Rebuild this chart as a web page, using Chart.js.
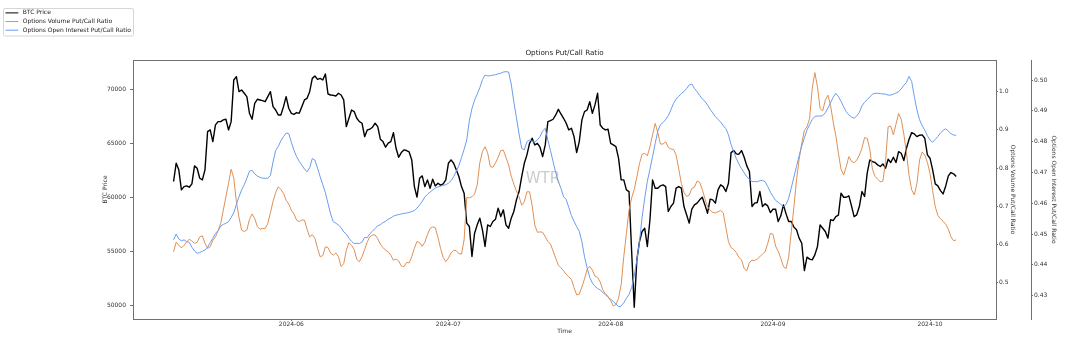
<!DOCTYPE html>
<html><head><meta charset="utf-8">
<script src="https://cdn.jsdelivr.net/npm/chart.js@4.4.1/dist/chart.umd.min.js"></script>
<style>html,body{margin:0;padding:0;background:#fff}#wrap{width:1072px;height:355px;position:relative}canvas{display:block}</style>
</head><body><div id="wrap"><canvas id="c" width="1072" height="355"></canvas></div>
<script>
// ---- data (12-hour samples starting 2024-05-09 12:00 UTC) ----
const seriesStart = '2024-05-09T12:00:00Z';
const stepHours = 12;

const btcPrice = [
61450,63150,62530,60670,60980,61040,60920,61230,62900,62680,
61750,61600,62530,66080,66230,65150,66700,67000,67000,67160,
67220,66230,67000,70860,71170,69780,69935,69630,69320,67770,
67220,68700,69070,69010,68950,68850,69320,69780,68390,68080,
67620,67620,68390,69320,68240,67770,67680,67840,67770,68390,
69010,69160,69780,71010,71230,70920,71010,70860,71420,69560,
69470,69440,69380,69630,69470,69010,66540,67310,68080,67930,
67310,67000,66850,65610,66230,66290,66480,66850,66540,65370,
65150,64630,65000,65150,65980,64530,63700,64130,64380,64320,
64190,63450,60980,60000,61750,61970,60980,61600,60830,61660,
61040,61290,61110,61230,61600,63140,63450,63140,62530,61910,
60980,60370,57590,57280,54500,56660,57430,58050,56970,55430,
57430,57280,57740,57960,58980,58200,58820,57430,57120,58050,
58670,59750,60520,61910,63140,63920,64990,65460,64840,64990,
64630,63760,64840,67000,67090,67220,67620,68140,67710,67310,
66850,66230,66390,65610,64130,65150,67160,67930,68080,68850,
67770,68550,69630,66690,66390,66230,66290,64990,64840,64690,
63610,61600,61600,60670,60520,55000,49800,54190,55890,56820,
57120,55430,57900,61600,60830,60830,61050,61140,60980,58670,
59130,59440,60830,60980,60830,59130,58360,57590,58880,59280,
59440,59750,59990,59280,58510,59810,59750,59440,60670,61140,
60980,60520,61290,64130,64320,64010,63980,64320,63700,62900,
62370,59130,59440,59500,60520,59130,59380,59190,58570,58880,
58880,57740,58270,59280,58450,57740,57740,57220,56970,56200,
55730,53200,54440,54250,54190,54650,55430,57430,57120,56810,
56200,57900,57830,58200,58330,60370,59990,59990,60120,59190,
58200,58360,59130,60520,60060,62220,63450,63300,63210,62990,
62840,63080,62680,63510,63210,63700,63210,64220,64070,63390,
64530,65370,65980,65860,65610,65740,65770,65460,63920,63610,
62530,61230,61040,60610,60300,61040,61970,62280,62160,61910
];

const volumePutCall = [
0.581,0.606,0.598,0.591,0.598,0.607,0.614,0.609,0.603,0.606,
0.620,0.623,0.603,0.590,0.594,0.611,0.620,0.636,0.655,0.690,
0.725,0.760,0.797,0.774,0.712,0.671,0.638,0.634,0.638,0.666,
0.680,0.668,0.647,0.640,0.642,0.642,0.655,0.683,0.713,0.736,
0.751,0.744,0.734,0.716,0.706,0.690,0.680,0.664,0.660,0.664,
0.664,0.640,0.620,0.626,0.616,0.590,0.568,0.571,0.594,0.592,
0.578,0.572,0.578,0.568,0.542,0.550,0.585,0.605,0.598,0.587,
0.561,0.555,0.568,0.587,0.607,0.620,0.625,0.625,0.615,0.601,
0.592,0.585,0.581,0.572,0.559,0.562,0.557,0.544,0.542,0.553,
0.552,0.568,0.590,0.608,0.605,0.595,0.606,0.626,0.642,0.646,
0.644,0.619,0.590,0.566,0.555,0.564,0.578,0.585,0.584,0.576,
0.575,0.612,0.723,0.722,0.725,0.732,0.756,0.814,0.843,0.856,
0.840,0.804,0.802,0.814,0.828,0.846,0.847,0.828,0.808,0.779,
0.758,0.740,0.725,0.703,0.712,0.738,0.738,0.702,0.651,0.632,
0.633,0.632,0.620,0.608,0.601,0.583,0.564,0.546,0.539,0.531,
0.522,0.515,0.509,0.487,0.468,0.470,0.489,0.510,0.535,0.543,
0.533,0.517,0.514,0.502,0.481,0.471,0.464,0.453,0.439,0.443,
0.459,0.495,0.568,0.629,0.690,0.722,0.744,0.777,0.812,0.836,
0.839,0.832,0.856,0.887,0.917,0.893,0.863,0.863,0.869,0.854,
0.850,0.849,0.834,0.798,0.760,0.736,0.726,0.729,0.747,0.750,
0.766,0.763,0.744,0.720,0.699,0.690,0.684,0.683,0.686,0.689,
0.683,0.645,0.607,0.592,0.587,0.579,0.566,0.560,0.537,0.531,
0.553,0.559,0.558,0.562,0.568,0.575,0.581,0.603,0.629,0.627,
0.596,0.582,0.564,0.542,0.537,0.568,0.633,0.699,0.769,0.823,
0.865,0.899,0.908,0.930,1.009,1.050,1.013,0.956,0.950,0.978,
0.991,0.964,0.921,0.886,0.839,0.797,0.782,0.804,0.830,0.818,
0.814,0.821,0.834,0.852,0.880,0.878,0.849,0.797,0.778,0.771,
0.764,0.766,0.817,0.908,0.910,0.887,0.915,0.943,0.928,0.889,
0.839,0.781,0.743,0.730,0.760,0.821,0.842,0.834,0.815,0.786,
0.741,0.699,0.676,0.667,0.661,0.653,0.640,0.620,0.610,0.612
];

const oiPutCall = [
0.4481,0.4500,0.4484,0.4478,0.4481,0.4475,0.4473,0.4457,0.4445,0.4437,
0.4440,0.4444,0.4448,0.4457,0.4472,0.4486,0.4502,0.4511,0.4526,0.4531,
0.4535,0.4540,0.4554,0.4569,0.4596,0.4621,0.4643,0.4660,0.4681,0.4704,
0.4707,0.4695,0.4688,0.4684,0.4681,0.4681,0.4681,0.4690,0.4734,0.4771,
0.4784,0.4803,0.4816,0.4828,0.4826,0.4798,0.4772,0.4751,0.4736,0.4724,
0.4711,0.4702,0.4715,0.4745,0.4740,0.4714,0.4686,0.4660,0.4634,0.4599,
0.4565,0.4540,0.4535,0.4529,0.4521,0.4507,0.4500,0.4486,0.4476,0.4469,
0.4470,0.4469,0.4474,0.4489,0.4488,0.4501,0.4509,0.4518,0.4527,0.4530,
0.4537,0.4541,0.4548,0.4552,0.4558,0.4561,0.4563,0.4565,0.4567,0.4568,
0.4570,0.4573,0.4576,0.4584,0.4594,0.4606,0.4620,0.4629,0.4636,0.4643,
0.4649,0.4653,0.4655,0.4658,0.4660,0.4665,0.4673,0.4686,0.4704,0.4722,
0.4748,0.4775,0.4805,0.4868,0.4907,0.4935,0.4954,0.4975,0.5001,0.5016,
0.5013,0.5014,0.5016,0.5017,0.5020,0.5022,0.5026,0.5027,0.5026,0.4987,
0.4929,0.4877,0.4825,0.4778,0.4773,0.4800,0.4805,0.4800,0.4799,0.4806,
0.4816,0.4835,0.4843,0.4805,0.4771,0.4735,0.4699,0.4671,0.4648,0.4621,
0.4612,0.4586,0.4560,0.4541,0.4524,0.4509,0.4475,0.4426,0.4390,0.4359,
0.4341,0.4330,0.4323,0.4318,0.4310,0.4303,0.4294,0.4288,0.4281,0.4273,
0.4264,0.4266,0.4277,0.4291,0.4304,0.4326,0.4364,0.4416,0.4475,0.4554,
0.4616,0.4671,0.4710,0.4751,0.4794,0.4834,0.4855,0.4862,0.4872,0.4884,
0.4903,0.4924,0.4938,0.4947,0.4956,0.4963,0.4972,0.4984,0.4987,0.4973,
0.4962,0.4950,0.4939,0.4931,0.4919,0.4905,0.4893,0.4881,0.4872,0.4864,
0.4852,0.4842,0.4822,0.4790,0.4767,0.4745,0.4727,0.4712,0.4699,0.4686,
0.4678,0.4670,0.4670,0.4670,0.4673,0.4674,0.4670,0.4654,0.4636,0.4622,
0.4609,0.4603,0.4596,0.4589,0.4596,0.4616,0.4650,0.4685,0.4720,0.4754,
0.4786,0.4812,0.4838,0.4855,0.4872,0.4882,0.4883,0.4883,0.4884,0.4894,
0.4909,0.4926,0.4944,0.4957,0.4946,0.4931,0.4913,0.4897,0.4887,0.4880,
0.4876,0.4883,0.4895,0.4916,0.4928,0.4936,0.4945,0.4954,0.4957,0.4957,
0.4956,0.4955,0.4954,0.4951,0.4951,0.4954,0.4958,0.4962,0.4971,0.4983,
0.4992,0.5012,0.4995,0.4946,0.4903,0.4871,0.4852,0.4837,0.4819,0.4805,
0.4798,0.4807,0.4817,0.4828,0.4836,0.4842,0.4834,0.4826,0.4821,0.4821
];

const seriesNames = ['BTC Price', 'Options Volume Put/Call Ratio', 'Options Open Interest Put/Call Ratio'];
const xTickDates = ['2024-06-01T00:00:00Z','2024-07-01T00:00:00Z','2024-08-01T00:00:00Z','2024-09-01T00:00:00Z','2024-10-01T00:00:00Z'];
const xTickLabels = ['2024-06','2024-07','2024-08','2024-09','2024-10'];
const btcTicks = [50000,55000,60000,65000,70000];
const volTicks = [0.5,0.6,0.7,0.8,0.9,1.0];
const oiTicks = [0.43,0.44,0.45,0.46,0.47,0.48,0.49,0.50];
const xRange = ['2024-05-01T18:00:00Z','2024-10-13T14:30:00Z'];
const btcRange = [48704, 72713];
const volRange = [0.405, 1.083];
const oiRange = [0.4224, 0.5065];

// ---- build ----
const t0 = Date.parse(seriesStart);
const stepMs = stepHours * 3600 * 1000;
const toPoints = arr => arr.map((v, i) => ({x: t0 + i * stepMs, y: v}));

Chart.defaults.font.family = "'DejaVu Sans', sans-serif";
Chart.defaults.color = '#333';

const FRAME = '#707070';
const TICK_FONT = {size: 6};
const LABEL_FONT = {size: 6};

const framePlugin = {
  id: 'frameTop',
  afterDatasetsDraw(chart) {
    const {ctx, chartArea: a} = chart;
    ctx.save();
    ctx.strokeStyle = FRAME; ctx.lineWidth = 1;
    ctx.beginPath();
    ctx.moveTo(a.left, Math.round(a.top) + 0.5);
    ctx.lineTo(a.right, Math.round(a.top) + 0.5);
    ctx.stroke();
    ctx.restore();
  }
};

const watermarkPlugin = {
  id: 'watermark',
  afterDatasetsDraw(chart) {
    const {ctx} = chart;
    ctx.save();
    ctx.font = "15px 'DejaVu Sans', sans-serif";
    ctx.fillStyle = 'rgba(140,140,140,0.45)';
    ctx.textAlign = 'center';
    ctx.textBaseline = 'middle';
    ctx.fillText('WTR', 543, 179);
    ctx.restore();
  }
};

const legendPlugin = {
  id: 'boxLegend',
  afterDraw(chart) {
    const {ctx} = chart;
    const ds = chart.data.datasets;
    ctx.save();
    const bx = 3.5, by = 8.5, bw = 130, bh = 27.5, r = 1.5;
    ctx.beginPath();
    ctx.moveTo(bx + r, by);
    ctx.arcTo(bx + bw, by, bx + bw, by + bh, r);
    ctx.arcTo(bx + bw, by + bh, bx, by + bh, r);
    ctx.arcTo(bx, by + bh, bx, by, r);
    ctx.arcTo(bx, by, bx + bw, by, r);
    ctx.closePath();
    ctx.fillStyle = 'rgba(255,255,255,0.8)';
    ctx.fill();
    ctx.strokeStyle = '#d6d6d6';
    ctx.lineWidth = 1;
    ctx.stroke();
    ctx.font = "6px 'DejaVu Sans', sans-serif";
    ctx.textBaseline = 'middle';
    ctx.textAlign = 'left';
    ds.forEach((d, i) => {
      const y = 12.9 + i * 8.65;
      ctx.strokeStyle = d.borderColor;
      ctx.lineWidth = 1;
      ctx.beginPath();
      ctx.moveTo(5.5, y); ctx.lineTo(18.3, y);
      ctx.stroke();
      ctx.fillStyle = '#222';
      ctx.fillText(d.label, 22.7, y);
    });
    ctx.restore();
  }
};

new Chart(document.getElementById('c'), {
  type: 'line',
  data: {
    datasets: [
      {label: seriesNames[0], data: toPoints(btcPrice), yAxisID: 'y', borderColor: '#000000', borderWidth: 1.4, order: 3},
      {label: seriesNames[1], data: toPoints(volumePutCall), yAxisID: 'yVol', borderColor: '#de9055', borderWidth: 1, order: 2},
      {label: seriesNames[2], data: toPoints(oiPutCall), yAxisID: 'yOI', borderColor: '#6a9cf0', borderWidth: 1, order: 1}
    ]
  },
  options: {
    responsive: false,
    animation: false,
    devicePixelRatio: 1,
    elements: {point: {radius: 0, hoverRadius: 0}, line: {tension: 0, borderJoinStyle: 'round'}},
    layout: {padding: {left: 101.4, right: 0, top: 48.36, bottom: 20.4}},
    plugins: {
      legend: {display: false},
      tooltip: {enabled: false},
      title: {display: true, text: 'Options Put/Call Ratio', fullSize: false, color: '#222',
              font: {size: 7.2, weight: 'normal'}, padding: {top: 0, bottom: 3}}
    },
    scales: {
      x: {
        type: 'linear', position: 'bottom',
        min: Date.parse(xRange[0]), max: Date.parse(xRange[1]),
        afterBuildTicks: s => { s.ticks = xTickDates.map(d => ({value: Date.parse(d)})); },
        afterFit: s => { s.height = 15.6; },
        ticks: {autoSkip: false, maxRotation: 0, padding: 0, font: TICK_FONT, color: '#333',
                callback: (v) => xTickLabels[xTickDates.findIndex(d => Date.parse(d) === v)]},
        grid: {display: true, drawOnChartArea: false, drawTicks: true, tickLength: 2, color: FRAME},
        border: {display: true, color: FRAME, width: 1},
        title: {display: true, text: 'Time', font: LABEL_FONT, color: '#333', padding: {top: 0, bottom: 0}}
      },
      y: {
        type: 'linear', position: 'left',
        min: btcRange[0], max: btcRange[1],
        afterBuildTicks: s => { s.ticks = btcTicks.map(v => ({value: v})); },
        afterFit: s => { s.width = 31.6; },
        ticks: {padding: 4, font: TICK_FONT, color: '#333', callback: v => String(v)},
        grid: {display: true, drawOnChartArea: false, drawTicks: true, tickLength: 3, color: FRAME},
        border: {display: true, color: FRAME, width: 1},
        title: {display: true, text: 'BTC Price', font: LABEL_FONT, color: '#333', padding: {top: 0, bottom: 0}}
      },
      yVol: {
        type: 'linear', position: 'right', weight: 0,
        min: volRange[0], max: volRange[1],
        afterBuildTicks: s => { s.ticks = volTicks.map(v => ({value: v})); },
        afterFit: s => { s.width = 35; },
        ticks: {padding: 1, font: TICK_FONT, color: '#333', callback: v => v.toFixed(1)},
        grid: {display: true, drawOnChartArea: false, drawTicks: true, tickLength: 2, color: FRAME},
        border: {display: true, color: FRAME, width: 1},
        title: {display: true, text: 'Options Volume Put/Call Ratio', font: LABEL_FONT, color: '#333', padding: {top: 14.4, bottom: 0}}
      },
      yOI: {
        type: 'linear', position: 'right', weight: 1,
        min: oiRange[0], max: oiRange[1],
        afterBuildTicks: s => { s.ticks = oiTicks.map(v => ({value: v})); },
        afterFit: s => { s.width = 41; },
        ticks: {padding: 1, font: TICK_FONT, color: '#333', callback: v => v.toFixed(2)},
        grid: {display: true, drawOnChartArea: false, drawTicks: true, tickLength: 2, color: FRAME},
        border: {display: true, color: FRAME, width: 1},
        title: {display: true, text: 'Options Open Interest Put/Call Ratio', font: LABEL_FONT, color: '#333', padding: {top: 14.4, bottom: 0}}
      }
    }
  },
  plugins: [framePlugin, watermarkPlugin, legendPlugin]
});
</script>
</body></html>
